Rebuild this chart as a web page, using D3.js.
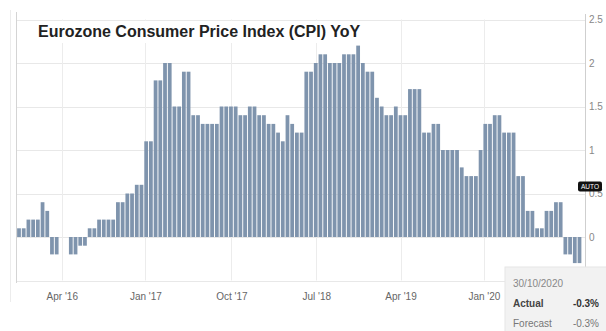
<!DOCTYPE html>
<html>
<head>
<meta charset="utf-8">
<script src="https://cdnjs.cloudflare.com/ajax/libs/d3/7.8.5/d3.min.js"></script>
<style>
  html, body { margin: 0; padding: 0; background: #fff; }
  svg { display: block; font-family: "Liberation Sans", Arial, Helvetica, sans-serif; }
</style>
</head>
<body>
<svg id="chart" width="606" height="331"></svg>
<script>
// Release dates (flash and final estimates), one bar per release
const releaseDates = [
  "2015-11-17","2015-11-30","2015-12-16","2016-01-05","2016-01-19","2016-01-29","2016-02-24","2016-02-29",
  "2016-03-17","2016-03-31","2016-04-13","2016-04-29","2016-05-18","2016-05-31","2016-06-16","2016-06-30",
  "2016-07-15","2016-07-29","2016-08-17","2016-08-31","2016-09-15","2016-09-30","2016-10-17","2016-10-31",
  "2016-11-17","2016-11-30","2016-12-16","2017-01-04","2017-01-18","2017-01-31","2017-02-22","2017-03-02",
  "2017-03-16","2017-03-31","2017-04-19","2017-05-02","2017-05-17","2017-05-31","2017-06-16","2017-06-30",
  "2017-07-17","2017-07-31","2017-08-17","2017-08-31","2017-09-18","2017-09-29","2017-10-17","2017-10-31",
  "2017-11-16","2017-11-30","2017-12-15","2018-01-05","2018-01-17","2018-01-31","2018-02-23","2018-02-28",
  "2018-03-16","2018-04-03","2018-04-18","2018-05-03","2018-05-17","2018-06-01","2018-06-15","2018-06-29",
  "2018-07-18","2018-07-31","2018-08-17","2018-08-31","2018-09-17","2018-09-28","2018-10-17","2018-10-30",
  "2018-11-16","2018-11-30","2018-12-17","2019-01-04","2019-01-17","2019-02-01","2019-02-22","2019-03-01",
  "2019-03-18","2019-04-01","2019-04-17","2019-05-03","2019-05-17","2019-05-31","2019-06-18","2019-06-28",
  "2019-07-17","2019-07-31","2019-08-19","2019-08-30","2019-09-18","2019-10-01","2019-10-16","2019-10-31",
  "2019-11-15","2019-11-29","2019-12-18","2020-01-07","2020-01-17","2020-01-31","2020-02-24","2020-03-03",
  "2020-03-18","2020-03-31","2020-04-17","2020-04-30","2020-05-20","2020-06-02","2020-06-17","2020-06-30",
  "2020-07-17","2020-07-31","2020-08-18","2020-09-01","2020-09-17","2020-10-02","2020-10-16","2020-10-30"
];

// CPI year-over-year, %
const cpiYoY = [
  0.1, 0.1, 0.2, 0.2, 0.2, 0.4, 0.3, -0.2,
  -0.2, 0.0, 0.0, -0.2, -0.2, -0.1, -0.1, 0.1,
  0.1, 0.2, 0.2, 0.2, 0.2, 0.4, 0.4, 0.5,
  0.5, 0.6, 0.6, 1.1, 1.1, 1.8, 1.8, 2.0,
  2.0, 1.5, 1.5, 1.9, 1.9, 1.4, 1.4, 1.3,
  1.3, 1.3, 1.3, 1.5, 1.5, 1.5, 1.5, 1.4,
  1.4, 1.5, 1.5, 1.4, 1.4, 1.3, 1.3, 1.2,
  1.1, 1.4, 1.3, 1.2, 1.2, 1.9, 1.9, 2.0,
  2.1, 2.1, 2.0, 2.0, 2.0, 2.1, 2.1, 2.1,
  2.2, 2.0, 1.9, 1.9, 1.6, 1.5, 1.4, 1.4,
  1.5, 1.4, 1.4, 1.7, 1.7, 1.7, 1.2, 1.2,
  1.3, 1.3, 1.0, 1.0, 1.0, 1.0, 0.8, 0.7,
  0.7, 0.7, 1.0, 1.3, 1.3, 1.4, 1.4, 1.2,
  1.2, 1.2, 0.7, 0.7, 0.3, 0.3, 0.1, 0.1,
  0.3, 0.3, 0.4, 0.4, -0.2, -0.2, -0.3, -0.3
];

const xTickDates = ["2016-04-01", "2017-01-01", "2017-10-01", "2018-07-01", "2019-04-01", "2020-01-01"];
const yTickValues = [-0.5, 0, 0.5, 1, 1.5, 2, 2.5];

const chartTitle = "Eurozone Consumer Price Index (CPI) YoY";
const latestReleaseLabel = "30/10/2020";
const forecastValue = -0.3;

const svg = d3.select("#chart");
const parse = d3.timeParse("%Y-%m-%d");
const dates = releaseDates.map(parse);
const pct = d3.formatLocale({ decimal: ".", thousands: ",", grouping: [3], currency: ["", ""], minus: "-" }).format(".1f");

// Ordinal time axis: releases are evenly spaced, dates between them are interpolated
const xPoint = d3.scalePoint().domain(releaseDates).range([19, 579.5]);
const xTime = d3.scaleTime().domain(dates).range(releaseDates.map(k => xPoint(k)));
const y = d3.scaleLinear().domain([0, 2.5]).range([237, 19.5]);
const barW = xPoint.step() * 0.8;

const plotLeft = 16, plotRight = 585;
const plotTop = y(2.5), plotBottom = y(-0.5);

// Outer frame lines on the left
svg.append("line").attr("x1", 10.5).attr("x2", 10.5).attr("y1", 10).attr("y2", 302)
  .attr("stroke", "#ececec");
svg.append("line").attr("x1", plotLeft + 0.5).attr("x2", plotLeft + 0.5).attr("y1", 12).attr("y2", 283)
  .attr("stroke", "#d4d4d4");

// Horizontal grid
svg.append("g").selectAll("line").data(yTickValues).join("line")
  .attr("x1", plotLeft + 1).attr("x2", plotRight)
  .attr("y1", d => Math.round(y(d)) + 0.5).attr("y2", d => Math.round(y(d)) + 0.5)
  .attr("stroke", "#e8e8e8");

// Vertical grid at the date ticks
svg.append("g").selectAll("line").data(xTickDates.map(parse)).join("line")
  .attr("x1", d => Math.round(xTime(d)) + 0.5).attr("x2", d => Math.round(xTime(d)) + 0.5)
  .attr("y1", plotTop).attr("y2", plotBottom)
  .attr("stroke", "#ececec");

// Title with its own white backing
svg.append("rect").attr("x", plotLeft + 1).attr("y", 21).attr("width", 356).attr("height", 22).attr("fill", "#fff");
svg.append("text").attr("x", 38).attr("y", 37)
  .attr("font-size", 16).attr("font-weight", "bold").attr("fill", "#222")
  .text(chartTitle);

// Bars
svg.append("g").selectAll("rect").data(releaseDates.map((k, i) => ({ k, v: cpiYoY[i] }))).join("rect")
  .attr("x", d => xPoint(d.k) - barW / 2)
  .attr("y", d => Math.min(y(d.v), y(0)))
  .attr("width", barW)
  .attr("height", d => Math.abs(y(d.v) - y(0)))
  .attr("fill", "#7f94ad");

// Bottom axis labels
const xAxis = svg.append("g").attr("transform", `translate(0,${plotBottom})`)
  .call(d3.axisBottom(xTime)
    .tickValues(xTickDates.map(parse))
    .tickFormat(d3.timeFormat("%b '%y"))
    .tickSize(0).tickPadding(12));
xAxis.select(".domain").remove();
xAxis.selectAll("text").attr("font-size", 10).attr("fill", "#666").attr("font-family", null);

// Right value axis
svg.append("line").attr("x1", plotRight + 0.5).attr("x2", plotRight + 0.5).attr("y1", 14).attr("y2", 268)
  .attr("stroke", "#cfcfcf");
const yAxis = svg.append("g").attr("transform", `translate(${plotRight},0)`)
  .call(d3.axisRight(y).tickValues(yTickValues).tickFormat(d => String(d)).tickSize(0).tickPadding(4));
yAxis.select(".domain").remove();
yAxis.selectAll("text").attr("font-size", 10).attr("fill", "#888").attr("font-family", null);

// "AUTO" scale badge
svg.append("rect").attr("x", 578).attr("y", 181.5).attr("width", 24).attr("height", 10).attr("rx", 2)
  .attr("fill", "#111");
svg.append("text").attr("x", 590).attr("y", 189).attr("text-anchor", "middle")
  .attr("font-size", 6.5).attr("fill", "#fff").text("AUTO");

// Latest release panel
const panel = svg.append("g");
panel.append("rect").attr("x", 505).attr("y", 267).attr("width", 102).attr("height", 65)
  .attr("fill", "#f2f2f2").attr("stroke", "#e6e6e6");
panel.append("text").attr("x", 513).attr("y", 287).attr("font-size", 10).attr("fill", "#888")
  .text(latestReleaseLabel);
panel.append("text").attr("x", 513).attr("y", 307).attr("font-size", 10).attr("font-weight", "bold")
  .attr("fill", "#444").text("Actual");
panel.append("text").attr("x", 599).attr("y", 307).attr("font-size", 10).attr("font-weight", "bold")
  .attr("text-anchor", "end").attr("fill", "#333").text(pct(cpiYoY[cpiYoY.length - 1]) + "%");
panel.append("text").attr("x", 513).attr("y", 327).attr("font-size", 10).attr("fill", "#777")
  .text("Forecast");
panel.append("text").attr("x", 599).attr("y", 327).attr("font-size", 10)
  .attr("text-anchor", "end").attr("fill", "#777").text(pct(forecastValue) + "%");
</script>
</body>
</html>
